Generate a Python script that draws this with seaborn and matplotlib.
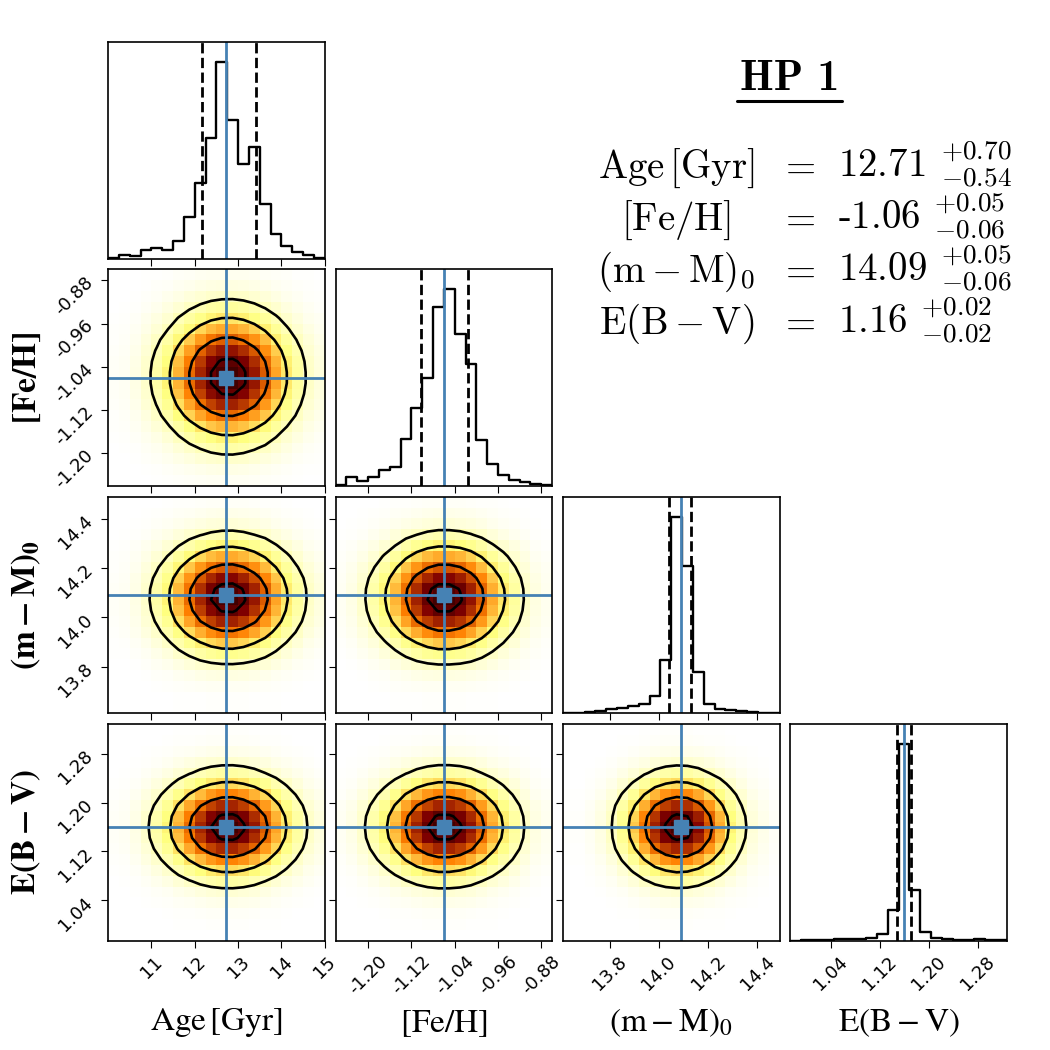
import numpy as np
import pandas as pd
import matplotlib
matplotlib.use("Agg")
import matplotlib.pyplot as plt
from matplotlib.lines import Line2D
import seaborn as sns

# axis labels
x_labels = [r"$\mathrm{Age\,[Gyr]}$", r"$\mathrm{[Fe/H]}$",
            r"$\mathrm{(m-M)_0}$", r"$\mathrm{E(B-V)}$"]
y_labels = [None, r"$\mathbf{[Fe/H]}$", r"$\mathbf{(m-M)_0}$", r"$\mathbf{E(B-V)}$"]

# plotted range of every parameter (20 bins each)
ranges = [(10.0, 15.0), (-1.26, -0.86), (13.61, 14.49), (0.974, 1.328)]

# ticks
tick_vals = [[11, 12, 13, 14, 15],
             [-1.20, -1.12, -1.04, -0.96, -0.88],
             [13.8, 14.0, 14.2, 14.4],
             [1.04, 1.12, 1.20, 1.28]]
tick_text = [["11", "12", "13", "14", "15"],
             ["-1.20", "-1.12", "-1.04", "-0.96", "-0.88"],
             ["13.8", "14.0", "14.2", "14.4"],
             ["1.04", "1.12", "1.20", "1.28"]]

# best values and the dashed quantile lines
truths = [12.71, -1.06, 14.09, 1.16]
q_low = [12.17, -1.103, 14.039, 1.149]
q_high = [13.41, -1.015, 14.131, 1.171]

# 1D histograms (diagonal panels)
hist_age = [3, 10, 8, 25, 31, 27, 52, 123, 225, 360, 587, 413, 283, 333, 162, 73, 38, 19, 10, 3]
hist_feh = [4, 26, 14, 28, 47, 58, 142, 232, 322, 535, 589, 454, 364, 137, 67, 34, 17, 12, 7, 2]
hist_dm = [2, 2, 3, 7, 12, 17, 22, 29, 52, 159, 585, 439, 122, 27, 12, 9, 7, 4, 1, 1]
hist_ebv = [0, 1, 2, 2, 4, 5, 6, 9, 20, 92, 590, 152, 27, 7, 4, 3, 2, 4, 2, 1]
hists = [hist_age, hist_feh, hist_dm, hist_ebv]

# density profile of each parameter in the 2D panels
prof_age = [0.02, 0.03, 0.06, 0.12, 0.20, 0.31, 0.46, 0.62, 0.78, 0.91,
            0.99, 1.00, 0.93, 0.81, 0.66, 0.49, 0.34, 0.22, 0.13, 0.08]
prof_feh = [0.03, 0.06, 0.12, 0.20, 0.31, 0.45, 0.62, 0.78, 0.91, 0.99,
            0.99, 0.93, 0.81, 0.65, 0.48, 0.34, 0.22, 0.13, 0.07, 0.04]
prof_dm = [0.01, 0.01, 0.03, 0.07, 0.14, 0.26, 0.41, 0.60, 0.79, 0.93,
           1.00, 0.97, 0.85, 0.67, 0.48, 0.31, 0.18, 0.09, 0.05, 0.02]
prof_ebv = [0.00, 0.01, 0.02, 0.05, 0.10, 0.21, 0.37, 0.57, 0.78, 0.94,
            1.00, 0.94, 0.78, 0.57, 0.37, 0.21, 0.11, 0.05, 0.02, 0.01]
profiles = [prof_age, prof_feh, prof_dm, prof_ebv]

# results table
res_names = [r"$\mathrm{Age\,[Gyr]}$", r"$\mathrm{[Fe/H]}$",
             r"$\mathrm{(m-M)_0}$", r"$\mathrm{E(B-V)}$"]
res_values = ["12.71", "-1.06", "14.09", "1.16"]
res_plus = ["0.70", "0.05", "0.05", "0.02"]
res_minus = ["0.54", "0.06", "0.06", "0.02"]

blue = "#4682b4"
sigmas = np.array([0.5, 1.0, 1.5, 2.0])

sns.set_style("ticks", {"axes.edgecolor": "k", "xtick.color": "k", "ytick.color": "k",
                        "axes.labelcolor": "k", "text.color": "k"})
plt.rcParams["axes.unicode_minus"] = False
plt.rcParams["axes.linewidth"] = 1.2
plt.rcParams["xtick.major.size"] = 5
plt.rcParams["ytick.major.size"] = 5


def corner_levels(H):
    flat = np.sort(H.ravel())[::-1]
    cum = np.cumsum(flat)
    cum /= cum[-1]
    out = []
    for m in 1 - np.exp(-0.5 * sigmas ** 2):
        sel = flat[cum <= m]
        out.append(sel[-1] if len(sel) else flat[0])
    return np.sort(np.unique(out))


fig, axes = plt.subplots(4, 4, figsize=(10.5, 10.5), dpi=100)
fig.subplots_adjust(left=0.103, right=0.959, bottom=0.104, top=0.96,
                    wspace=0.05, hspace=0.05)

edges = [np.linspace(lo, hi, 21) for lo, hi in ranges]
centers = [0.5 * (e[1:] + e[:-1]) for e in edges]

for i in range(4):
    for j in range(4):
        ax = axes[i, j]
        if j > i:
            ax.axis("off")
            continue
        if i == j:
            df = pd.DataFrame({"value": centers[i], "count": hists[i]})
            sns.histplot(data=df, x="value", weights="count", bins=list(edges[i]),
                         element="step", fill=False, color="k", linewidth=1.7, ax=ax)
            ax.set_ylim(0, 1.1 * max(hists[i]))
            ax.set_yticks([])
            ax.set_ylabel("")
            ax.axvline(q_low[i], color="k", ls="--", lw=2)
            ax.axvline(q_high[i], color="k", ls="--", lw=2)
            ax.axvline(truths[i], color=blue, lw=2)
        else:
            H = np.outer(profiles[i], profiles[j])
            ax.pcolormesh(edges[j], edges[i], H, cmap="afmhot_r", vmin=0,
                          vmax=1.15 * H.max())
            ax.contour(centers[j], centers[i], H, levels=corner_levels(H),
                       colors="k", linewidths=1.9)
            ax.axvline(truths[j], color=blue, lw=2)
            ax.axhline(truths[i], color=blue, lw=2)
            ax.plot(truths[j], truths[i], "s", color=blue, ms=10)
            ax.set_ylim(ranges[i])
            ax.set_yticks(tick_vals[i])
            if j == 0:
                ax.set_yticklabels(tick_text[i], rotation=45, fontsize=13)
                ax.set_ylabel(y_labels[i], fontsize=24, math_fontfamily="stix")
                ax.yaxis.set_label_coords(-0.3, 0.5)
            else:
                ax.set_yticklabels([])
        ax.set_xlim(ranges[j])
        ax.set_xticks(tick_vals[j])
        if i == 3:
            ax.set_xticklabels(tick_text[j], rotation=45, fontsize=13)
            ax.set_xlabel(x_labels[j], fontsize=24, math_fontfamily="stix")
            ax.xaxis.set_label_coords(0.5, -0.3)
        else:
            ax.set_xticklabels([])
            ax.set_xlabel("")

# title and results
fig.text(0.752, 0.924, "HP 1", ha="center", va="center",
         fontsize=31, family="cmb10")
fig.add_artist(Line2D([0.702, 0.802], [0.904, 0.904], color="k", lw=2.2,
                      transform=fig.transFigure))
base_y = [0.8305, 0.781, 0.7314, 0.682]
for k in range(4):
    fig.text(0.644, base_y[k], res_names[k], ha="center", va="baseline",
             fontsize=28, math_fontfamily="cm")
    fig.text(0.759, base_y[k], r"$=$", ha="center", va="baseline",
             fontsize=28, math_fontfamily="cm")
    fig.text(0.798, base_y[k],
             res_values[k] + r" $^{+" + res_plus[k] + r"}_{-" + res_minus[k] + r"}$",
             ha="left", va="baseline", fontsize=28, family="cmr10", math_fontfamily="cm")

plt.savefig("out.png", dpi=100)
